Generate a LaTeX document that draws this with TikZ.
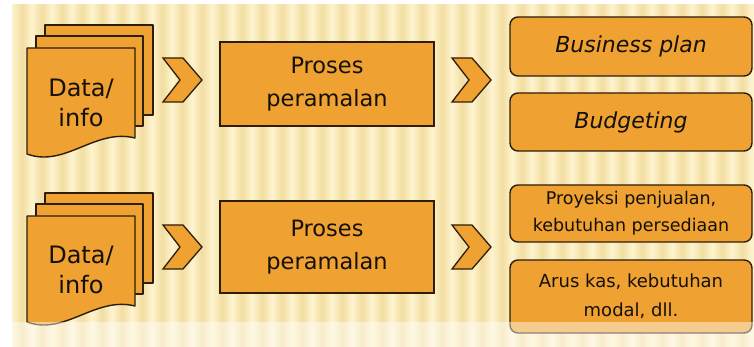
\documentclass[tikz,border=0pt]{standalone}
\usepackage{fontspec}
\setmainfont{DejaVu Sans}
\definecolor{boxfill}{RGB}{239,161,50}
\definecolor{boxline}{RGB}{45,30,12}
\definecolor{paperlight}{RGB}{253,243,206}
\definecolor{paperdark}{RGB}{243,222,162}
\definecolor{ink}{RGB}{20,16,10}
\begin{document}
\begin{tikzpicture}[x=1pt,y=-1pt,
  page/.style={fill=boxfill,draw=boxline,line width=1.4pt,line join=round},
  chevshape/.style={fill=boxfill,draw=boxline,line width=1.3pt,line join=miter},
  procbox/.style={fill=boxfill,draw=boxline,line width=1.4pt,inner sep=0pt,
    text=ink,align=center,font=\fontsize{22.5}{33}\selectfont},
  outbox/.style={fill=boxfill,draw=boxline,line width=1.4pt,rounded corners=8pt,
    inner sep=0pt,text=ink,align=center,minimum width=242},
  doctext/.style={text=ink,align=center,inner sep=0pt,font=\fontsize{24}{30}\selectfont},
  docs/.pic={
    \draw[page] (0,0) rectangle (108,90);
    \draw[page] (-9,11) rectangle (98,101);
    \draw[page] (-18,23) -- (90,23) -- (90,113)
      .. controls (50,103) and (20,143) .. (-18,129) -- cycle;
  },
  chev/.pic={
    \draw[chevshape] (0,0) -- (20,0) -- (39,22) -- (20,44) -- (0,44) -- (17,22) -- cycle;
  }
]
\useasboundingbox (0,0) rectangle (754,347);
\fill[white] (0,0) rectangle (754,347);

% striped paper background
\foreach \i in {0,...,37}{
  \shade[left color=paperlight,right color=paperdark] (12+20*\i,5) rectangle (22+20*\i,347);
  \shade[left color=paperdark,right color=paperlight] (22+20*\i,5) rectangle (32+20*\i,347);
}
\fill[white] (0,0) rectangle (12,347);

% upper row
\pic at (45,25) {docs};
\node[doctext] (d1) at (81,103) {Data/\\info};
\pic at (163,58) {chev};
\node[procbox,minimum width=214,minimum height=84] (p1) at (327,84) {Proses\\peramalan};
\pic at (452,58) {chev};
\node[outbox,minimum height=59,font=\fontsize{22}{26}\selectfont\itshape] (o1) at (631,46.5) {Business plan};
\node[outbox,minimum height=58,font=\fontsize{22}{26}\selectfont\itshape] (o2) at (631,122) {Budgeting};

% lower row
\pic at (45,193) {docs};
\node[doctext] (d2) at (81,270) {Data/\\info};
\pic at (163,225) {chev};
\node[procbox,minimum width=214,minimum height=92] (p2) at (327,247) {Proses\\peramalan};
\pic at (452,225) {chev};
\node[outbox,minimum height=57,font=\fontsize{17.5}{27}\selectfont] (o3) at (631,213.5) {Proyeksi penjualan,\\kebutuhan persediaan};
\node[outbox,minimum height=73,font=\fontsize{18}{29}\selectfont] (o4) at (631,296.5) {Arus kas, kebutuhan\\modal, dll.};

% pale strip along the bottom edge
\fill[white,opacity=0.45] (12,322) rectangle (754,347);
\end{tikzpicture}
\end{document}
